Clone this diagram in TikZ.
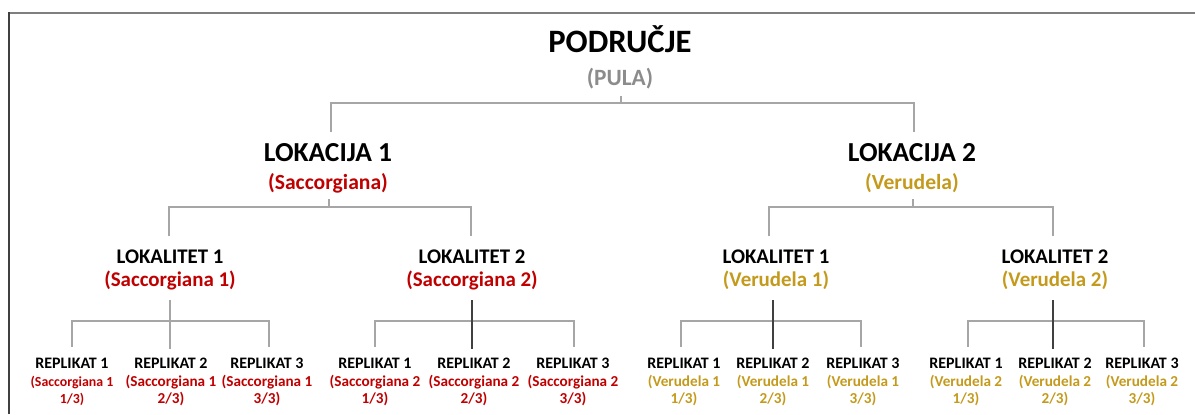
\documentclass[tikz,border=0pt]{standalone}
\usepackage{fontspec}
\setmainfont{Carlito}
\definecolor{redA}{HTML}{C00000}
\definecolor{goldA}{HTML}{C49A1C}
\definecolor{grayA}{HTML}{8C8C8C}
\definecolor{lineG}{HTML}{A6A6A6}
\definecolor{lineD}{HTML}{404040}
\definecolor{frameT}{HTML}{7F7F7F}
\begin{document}
\begin{tikzpicture}[x=0.75pt,y=-0.75pt,
  txt/.style={anchor=base,inner sep=0pt},
  tzero/.style={txt,font=\bfseries\fontsize{24.5}{28}\selectfont},
  szero/.style={txt,text=grayA,font=\bfseries\fontsize{17.5}{21}\selectfont},
  tone/.style={txt,font=\bfseries\fontsize{20.6}{24}\selectfont},
  sone/.style={txt,font=\bfseries\fontsize{16.2}{20}\selectfont},
  ttwo/.style={txt,font=\bfseries\fontsize{15.6}{19}\selectfont},
  stwo/.style={txt,font=\bfseries\fontsize{15.7}{19}\selectfont},
  tthree/.style={txt,font=\bfseries\fontsize{12}{14}\selectfont},
  gl/.style={draw=lineG,line width=0.8pt},
  dl/.style={draw=lineD,line width=0.8pt}]
\useasboundingbox (0,0) rectangle (1195,414);
% frame
\coordinate (ftl) at (8,12.5);
\coordinate (ftr) at (1195,12.5);
\coordinate (fbl) at (8.5,414);
\draw[frameT,line width=1.5pt] (ftl) -- (ftr);
\draw[lineD,line width=1.5pt] (8.5,11.8) -- (fbl);
% level 0
\node[tzero] (podr) at (620,52) {PODRUČJE};
\node[szero] (pula) at (620,85.5) {(PULA)};
% level 1
\node[tone] (lokA) at (328,161.5) {LOKACIJA 1};
\node[sone,text=redA] (lokAs) at (328,189) {(Saccorgiana)};
\node[tone] (lokB) at (912,161.5) {LOKACIJA 2};
\node[sone,text=goldA] (lokBs) at (912,189) {(Verudela)};
% level 2
\node[ttwo] (ltA) at (170,263) {LOKALITET 1};
\node[stwo,text=redA] (ltAs) at (170,286) {(Saccorgiana 1)};
\node[ttwo] (ltB) at (472,263) {LOKALITET 2};
\node[stwo,text=redA] (ltBs) at (472,286) {(Saccorgiana 2)};
\node[ttwo] (ltC) at (776,263) {LOKALITET 1};
\node[stwo,text=goldA] (ltCs) at (776,286) {(Verudela 1)};
\node[ttwo] (ltD) at (1055,263) {LOKALITET 2};
\node[stwo,text=goldA] (ltDs) at (1055,286) {(Verudela 2)};
% connectors level 0 -> 1
\coordinate (c0) at (621,96);
\coordinate (j0) at (621,103);
\coordinate (e1) at (331,132);
\coordinate (e2) at (914,132);
\draw[gl] (c0) -- (j0);
\draw[gl] (e1) |- (j0) -| (e2);
% connectors level 1 -> 2
\coordinate (c1) at (329,199);
\coordinate (j1) at (329,207);
\coordinate (e11) at (169,236);
\coordinate (e12) at (471,236);
\draw[gl] (c1) -- (j1);
\draw[gl] (e11) |- (j1) -| (e12);
\coordinate (c2) at (913,199);
\coordinate (j2) at (913,207);
\coordinate (e21) at (769,236);
\coordinate (e22) at (1053,236);
\draw[gl] (c2) -- (j2);
\draw[gl] (e21) |- (j2) -| (e22);
% connectors level 2 -> 3
\foreach \g/\cx/\lx/\rx/\sty in {1/170/72/269/gl,2/472/375/574/dl,3/773/681/861/dl,4/1053/968/1144/dl}{
  \coordinate (gs\g) at (\cx,300);
  \coordinate (gj\g) at (\cx,321);
  \coordinate (gm\g) at (\cx,349);
  \coordinate (gl\g) at (\lx,347);
  \coordinate (gr\g) at (\rx,347);
  \draw[gl] (gl\g) |- (gj\g) -| (gr\g);
  \draw[\sty] (gs\g) -- (gm\g);
}
% level 3
\foreach \x/\g/\k/\nm/\col/\fs in {
  72/1/1/Saccorgiana 1/redA/10.4, 171/1/2/Saccorgiana 1/redA/11.4, 267/1/3/Saccorgiana 1/redA/11.4,
  375/2/1/Saccorgiana 2/redA/11.4, 474/2/2/Saccorgiana 2/redA/11.4, 573/2/3/Saccorgiana 2/redA/11.4,
  684/3/1/Verudela 1/goldA/11.4, 773/3/2/Verudela 1/goldA/11.4, 863/3/3/Verudela 1/goldA/11.4,
  966/4/1/Verudela 2/goldA/11.4, 1055/4/2/Verudela 2/goldA/11.4, 1142/4/3/Verudela 2/goldA/11.4}{
  \node[tthree] (r\g\k) at (\x,368) {REPLIKAT \k};
  \node[txt,text=\col,font=\bfseries\fontsize{\fs}{14}\selectfont] (r\g\k a) at (\x,386) {(\nm};
  \node[txt,text=\col,font=\bfseries\fontsize{\fs}{14}\selectfont] (r\g\k b) at (\x,403) {\k/3)};
}
\end{tikzpicture}
\end{document}
